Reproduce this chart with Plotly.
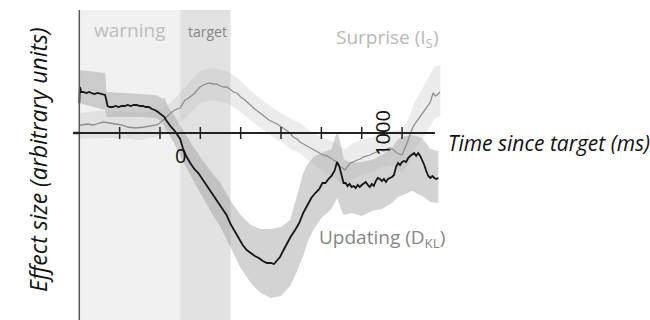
import plotly.graph_objects as go

# ---- time axis (ms relative to target onset) ----
tick_vals = [-300, -100, 100, 300, 500, 700, 900, 1100]
label_zero = 0
label_thousand = 1000
warning_window = [-500, 0]
target_window = [0, 250]

# ---- Updating (D_KL) : mean trace ----
upd_t = [-500, -497, -490, -480, -465, -450, -440, -425, -410, -395, -380, -372, -366, -360,
         -350, -335, -320, -305, -290, -275, -260, -245, -230, -215, -200, -185, -170, -155,
         -140, -125, -110, -95, -85, -78, -70, -60, -45, -30, -15, 0, 15, 30, 50, 70, 90, 110,
         130, 150, 170, 190, 210, 230, 250, 270, 290, 310, 330, 350, 370, 390, 410, 430, 450,
         465, 480, 495, 510, 530, 550, 570, 590, 610, 630, 650, 670, 690, 705, 720, 735, 750,
         765, 778, 790, 800, 810, 820, 830, 840, 850, 860, 870, 880, 890, 900, 910, 920, 930,
         940, 950, 960, 970, 980, 990, 1000, 1010, 1020, 1030, 1040, 1050, 1060, 1070, 1080,
         1090, 1100, 1110, 1120, 1130, 1140, 1150, 1160, 1170, 1180, 1190, 1200, 1210, 1220,
         1230, 1240, 1250, 1260, 1270, 1280]
upd_y = [3.0, 4.6, 4.1, 4.1, 4.0, 4.1, 4.0, 3.9, 4.0, 3.9, 3.8, 3.8, 3.3, 2.7,
         2.6, 2.6, 2.7, 2.6, 2.7, 2.7, 2.8, 2.7, 2.8, 2.8, 2.7, 2.7, 2.6, 2.6,
         2.4, 2.3, 2.1, 1.9, 1.7, 1.6, 1.3, 1.0, 0.6, 0.3, -0.1, -0.6, -1.6, -2.3, -3.0, -3.6,
         -4.0, -4.6, -5.2, -5.7, -6.3, -6.9, -7.5, -8.2, -9.1, -9.8, -10.6, -11.2, -11.7,
         -12.0, -12.3, -12.5, -12.8, -13.0, -13.0, -13.1, -12.8, -12.4, -11.8, -11.0, -10.3,
         -9.7, -9.0, -8.0, -7.2, -6.5, -6.0, -5.6, -5.0, -5.0, -4.6, -4.3, -3.8, -2.9, -3.4,
         -4.2, -5.0, -5.0, -5.3, -5.1, -5.4, -5.3, -5.5, -5.2, -5.4, -5.2, -5.0, -4.9, -5.2,
         -5.4, -5.1, -5.3, -4.8, -4.5, -4.6, -4.8, -4.6, -4.9, -4.6, -4.5, -4.4, -4.2, -3.4,
         -3.0, -3.2, -2.9, -2.8, -2.9, -2.5, -2.3, -2.1, -2.0, -2.3, -2.0, -2.3, -2.7, -3.2,
         -3.8, -4.3, -4.5, -4.3, -4.5, -4.6, -4.5]

# ---- Updating (D_KL) : error band ----
upd_band_t = [-500, -372, -365, -300, -200, -120, -85, -78, -60, -30, 0, 50, 100, 150, 200,
              250, 300, 350, 400, 450, 500, 545, 580, 610, 630, 660, 700, 750, 770, 780, 795,
              810, 850, 900, 950, 1000, 1050, 1080, 1100, 1150, 1200, 1240, 1280]
upd_band_hi = [6.3, 6.0, 4.1, 4.0, 3.9, 3.8, 3.4, 3.6, 2.6, 1.8, 0.8, -0.9, -2.4, -3.8, -5.0,
               -6.8, -8.2, -9.2, -9.6, -9.6, -9.4, -8.7, -6.2, -4.0, -3.2, -2.4, -2.0, -1.6,
               -0.3, 0.1, -1.0, -2.6, -3.0, -2.9, -2.7, -2.2, -1.5, -0.6, -0.4, -0.2, -0.5,
               -1.6, -1.8]
upd_band_lo = [3.0, 2.3, 1.6, 1.6, 1.6, 1.5, 1.1, 0.6, 0.0, -1.0, -2.2, -4.2, -6.0, -7.8, -9.4,
               -11.4, -13.5, -15.0, -16.0, -16.5, -16.3, -15.3, -13.8, -12.3, -11.0, -9.7,
               -8.5, -7.6, -6.8, -6.5, -7.5, -8.2, -8.0, -8.3, -7.8, -7.6, -7.0, -6.4, -6.2,
               -5.8, -6.3, -6.9, -7.0]

# ---- Surprise (I_S) : mean trace ----
sur_t = [-500, -490, -460, -430, -400, -380, -350, -320, -290, -260, -220, -180, -150, -115,
         -100, -85, -70, -55, -40, -26, -10, 0, 12, 24, 36, 49, 60, 73, 85, 98, 115, 130, 145,
         163, 180, 200, 215, 232, 250, 265, 282, 300, 315, 331, 350, 370, 396, 420, 440, 460,
         480, 510, 530, 545, 560, 580, 594, 620, 644, 670, 690, 708, 730, 758, 775, 793, 805,
         817, 830, 842, 860, 877, 893, 907, 925, 941, 960, 975, 991, 1010, 1025, 1041, 1058,
         1075, 1088, 1100, 1112, 1125, 1140, 1154, 1170, 1189, 1205, 1224, 1240, 1254, 1265,
         1274, 1288]
sur_y = [0.7, 0.8, 0.9, 0.8, 1.0, 1.1, 1.0, 0.9, 0.8, 0.6, 0.5, 0.6, 0.7, 0.8,
         1.0, 1.3, 1.6, 1.8, 2.1, 2.3, 2.4, 2.5, 2.9, 3.3, 3.4, 3.6, 3.8, 4.0, 4.3, 4.6, 4.8,
         4.9, 5.0, 4.9, 4.9, 4.7, 4.6, 4.6, 4.3, 4.1, 4.0, 3.6, 3.4, 3.1, 2.8, 2.4, 2.0, 1.6,
         1.3, 1.1, 0.9, 0.5, 0.2, 0.0, -0.4, -0.6, -0.9, -1.2, -1.5, -1.8, -2.0, -2.2, -2.3,
         -2.7, -2.9, -3.4, -3.5, -3.7, -3.3, -3.0, -2.9, -2.7, -2.6, -2.4, -2.3, -2.2, -2.0,
         -1.9, -1.7, -1.8, -1.6, -1.5, -1.7, -2.0, -2.1, -2.2, -1.6, -1.0, -0.1, 0.6, 1.1, 1.6,
         2.0, 2.6, 3.1, 4.0, 3.7, 3.8, 4.1]

# ---- Surprise (I_S) : error band ----
sur_band_t = [-500, -400, -300, -200, -100, -50, 0, 50, 100, 160, 230, 280, 347, 400, 460, 510,
              560, 594, 650, 700, 760, 793, 820, 850, 900, 950, 1000, 1050, 1100, 1130, 1160,
              1200, 1230, 1260, 1290]
sur_band_hi = [2.0, 2.2, 2.2, 2.0, 2.3, 3.0, 4.0, 5.2, 6.2, 6.5, 6.2, 5.6, 4.3, 3.4, 2.5,
               1.9, 1.3, 1.0, 0.1, -0.4, -0.9, -1.4, -1.6, -1.1, -0.7, -0.4, 0.0, 0.2, 0.3,
               1.3, 3.0, 4.4, 5.6, 6.6, 6.8]
sur_band_lo = [-0.6, -0.5, -0.5, -0.7, -0.3, 0.2, 1.0, 2.0, 3.0, 3.3, 3.0, 2.4, 1.3, 0.5,
               -0.4, -1.0, -1.8, -2.0, -3.0, -3.7, -4.4, -5.0, -5.3, -4.7, -4.2, -3.9, -3.4,
               -3.2, -4.0, -3.2, -1.6, -0.6, 0.4, 1.4, 1.7]

# plotted extent (data units)
x_view = [-893, 2329]
y_view = [-18.7, 13.3]
y_top = 12.3
FONT = "Open Sans"

fig = go.Figure()


def band(t, hi, lo, color):
    return go.Scatter(x=t + t[::-1], y=hi + lo[::-1], fill="toself", fillcolor=color,
                      line=dict(width=0), mode="lines", hoverinfo="skip", showlegend=False)


fig.add_trace(band(upd_band_t, upd_band_hi, upd_band_lo, "rgba(150,150,150,0.42)"))
fig.add_trace(band(sur_band_t, sur_band_hi, sur_band_lo, "rgba(175,175,175,0.24)"))
fig.add_trace(go.Scatter(x=sur_t, y=sur_y, mode="lines",
                         line=dict(color="#8e8e8e", width=1.3), showlegend=False))
fig.add_trace(go.Scatter(x=upd_t, y=upd_y, mode="lines",
                         line=dict(color="#161616", width=1.8), showlegend=False))

shapes = [
    dict(type="rect", xref="x", yref="y", x0=warning_window[0], x1=warning_window[1],
         y0=y_view[0], y1=y_top, fillcolor="#f1f1f1", line_width=0, layer="below"),
    dict(type="rect", xref="x", yref="y", x0=target_window[0], x1=target_window[1],
         y0=y_view[0], y1=y_top, fillcolor="#e2e2e2", line_width=0, layer="below"),
    # y axis
    dict(type="line", xref="x", yref="y", x0=-500, x1=-500, y0=y_view[0], y1=y_top,
         line=dict(color="#5a5a5a", width=1.5), layer="above"),
    # time axis
    dict(type="line", xref="x", yref="y", x0=-530, x1=1263, y0=0, y1=0,
         line=dict(color="#222222", width=2), layer="above"),
]
for tv in tick_vals:
    shapes.append(dict(type="line", xref="x", yref="y", x0=tv, x1=tv, y0=-0.6, y1=0.6,
                       line=dict(color="#222222", width=1.5), layer="above"))
shapes.append(dict(type="line", xref="x", yref="y", x0=-530, x1=-500, y0=0, y1=0,
                   line=dict(color="#222222", width=2.5), layer="above"))

annotations = [
    dict(x=-250, y=10.3, text="warning", font=dict(family=FONT, size=19, color="#bdbdbd")),
    dict(x=134, y=10.2, text="target", font=dict(family=FONT, size=14, color="#858585")),
    dict(x=1030, y=9.5, text="Surprise (I<sub>S</sub>)",
         font=dict(family=FONT, size=19, color="#b8b8b8")),
    dict(x=1000, y=-10.5, text="Updating (D<sub>KL</sub>)",
         font=dict(family=FONT, size=19, color="#858585")),
    dict(x=label_zero, y=-2.2, text="0", font=dict(family=FONT, size=20, color="#111111")),
    dict(x=label_thousand, y=0, text="1000", textangle=-90,
         font=dict(family=FONT, size=20, color="#111111")),
    dict(x=1318, y=-1.0, xanchor="left", text="<i>Time since target (ms)</i>",
         font=dict(family=FONT, size=21, color="#111111")),
    dict(x=-705, y=-2.7, text="<i>Effect size (arbitrary units)</i>", textangle=-90,
         font=dict(family=FONT, size=23, color="#111111")),
]
for a in annotations:
    a.update(xref="x", yref="y", showarrow=False)

fig.update_layout(
    width=650, height=320,
    margin=dict(l=0, r=0, t=0, b=0),
    paper_bgcolor="white", plot_bgcolor="white",
    xaxis=dict(range=x_view, visible=False, fixedrange=True),
    yaxis=dict(range=y_view, visible=False, fixedrange=True),
    shapes=shapes, annotations=annotations, showlegend=False,
)

fig.write_html("out.html")
